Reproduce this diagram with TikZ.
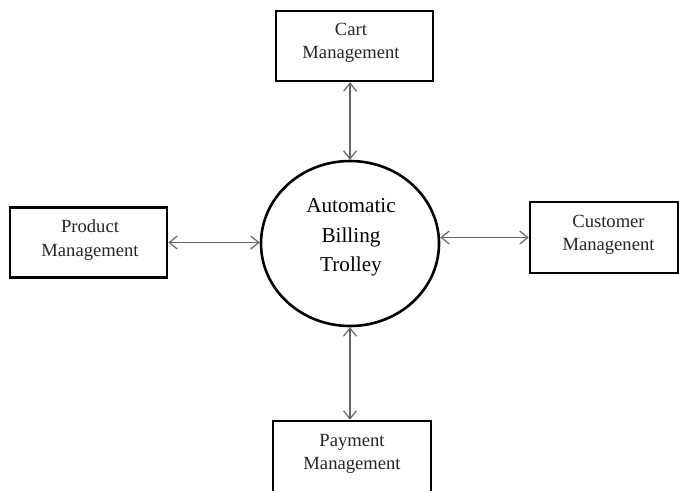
\documentclass[tikz,border=0pt]{standalone}
\usepackage{fontspec}
\setmainfont{Liberation Serif}
\usetikzlibrary{shapes.geometric,arrows.meta}
\tikzset{
  box/.style={draw=black, line width=2.6pt, rectangle, inner sep=0pt, minimum width=157pt, minimum height=70pt},
  boxtext/.style={align=center, inner sep=0pt, font=\fontsize{18.6}{23.5}\selectfont, text=black!85},
  hub/.style={draw=black, line width=2.6pt, ellipse, inner sep=0pt, minimum width=178pt, minimum height=165pt},
  hubtext/.style={align=center, inner sep=0pt, font=\fontsize{21.2}{29.5}\selectfont},
  arr/.style={draw=black!60, line width=1.4pt, {Straight Barb[length=8pt,width=13pt,line width=1.2pt]}-{Straight Barb[length=8pt,width=13pt,line width=1.2pt]}}
}
\begin{document}
\begin{tikzpicture}[x=1pt,y=-1pt]
\clip (0,0) rectangle (679,490);
\useasboundingbox (0,0) rectangle (679,490);
\fill[white] (0,0) rectangle (679,490);
% boxes
\node[box] (cart) at (354.5,46) {};
\node[boxtext] (cartt) at (351,43) {Cart\\Management};
\node[box] (prod) at (88.5,242.5) {};
\node[boxtext] (prodt) at (90,240) {Product\\Management};
\node[box, minimum width=148pt, minimum height=71pt] (cust) at (604,237.5) {};
\node[boxtext] (custt) at (608.5,235) {Customer\\Managenent};
\node[box, minimum width=158pt, minimum height=76pt] (pay) at (352,459) {};
\node[boxtext] (payt) at (352,454) {Payment\\Management};
% hub
\node[hub] (hub) at (350,243.5) {};
\node[hubtext] (hubt) at (351,237.5) {Automatic\\Billing\\Trolley};
% connectors
\draw[arr] (cart.south -| hub.north) -- (hub.north);
\draw[arr] (prod.east) -- (prod.east -| hub.west);
\draw[arr] (cust.west -| hub.east) -- (cust.west);
\draw[arr] (hub.south) -- (hub.south |- pay.north);
\end{tikzpicture}
\end{document}
